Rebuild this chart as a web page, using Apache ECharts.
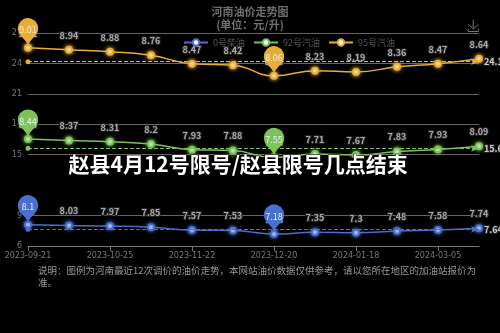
<!DOCTYPE html>
<html>
<head>
<meta charset="utf-8">
<script src="https://cdn.jsdelivr.net/npm/echarts@6/dist/echarts.min.js"></script>
<style>
html,body{margin:0;padding:0;background:#000;}
#c{width:500px;height:333px;}
</style>
</head>
<body>
<div id="c"></div>
<script>
var categories = ['2023-09-21','2023-10-11','2023-10-25','2023-11-08','2023-11-22','2023-12-06','2023-12-20','2024-01-04','2024-01-18','2024-02-01','2024-03-05','2024-03-19'];
var diesel0 = [8.1, 8.03, 7.97, 7.85, 7.57, 7.53, 7.18, 7.35, 7.3, 7.48, 7.58, 7.74];
var gas92 = [8.44, 8.37, 8.31, 8.2, 7.93, 7.88, 7.55, 7.71, 7.67, 7.83, 7.93, 8.09];
var gas95 = [9.01, 8.94, 8.88, 8.76, 8.47, 8.42, 8.06, 8.23, 8.19, 8.36, 8.47, 8.64];
var seriesNames = ['0号柴油', '92号汽油', '95号汽油'];
var yTicks = {min: 6, max: 27, interval: 3};

var colors = ['#4a6fd0', '#7cc35a', '#e8ad35'];
var fontFam = '"Noto Sans CJK SC", "Noto Sans", sans-serif';

function mkSeries(name, data, color) {
  return {
    name: name,
    type: 'line',
    stack: 'total',
    smooth: true,
    data: data,
    symbol: 'circle',
    symbolSize: 6,
    itemStyle: {color: '#fff', borderColor: color, borderWidth: 2, shadowColor: color, shadowBlur: 4},
    lineStyle: {color: color, width: 1.5},
    label: {
      show: true, position: 'top', distance: 6,
      color: '#aaa', fontSize: 9, fontWeight: 'bold', fontFamily: fontFam,
      textBorderColor: '#222', textBorderWidth: 2
    },
    markPoint: {
      symbol: 'pin',
      symbolSize: 34,
      itemStyle: {color: color},
      label: {color: '#eee', fontSize: 9, fontFamily: fontFam},
      data: [{type: 'max', name: '最高'}, {type: 'min', name: '最低'}]
    },
    markLine: {
      symbolSize: [5, 8],
      lineStyle: {color: color, type: 'dashed', width: 1},
      label: {color: '#ccc', fontSize: 9, fontWeight: 'bold', fontFamily: fontFam, textBorderColor: '#222', textBorderWidth: 2},
      data: [{type: 'average', name: '平均值'}]
    }
  };
}

var chart = echarts.init(document.getElementById('c'), null, {renderer: 'canvas'});
chart.setOption({
  backgroundColor: '#000',
  animation: false,
  color: colors,
  title: {
    text: '河南油价走势图',
    subtext: '(单位：元/升)',
    left: 'center',
    top: 1,
    itemGap: 2,
    textStyle: {color: '#6f6f6f', fontSize: 11, fontWeight: 'bold', fontFamily: fontFam},
    subtextStyle: {color: '#6f6f6f', fontSize: 11, fontWeight: 'bold', fontFamily: fontFam}
  },
  toolbox: {
    right: 4, top: 2, itemSize: 12,
    iconStyle: {borderColor: '#777'},
    feature: {saveAsImage: {}}
  },
  legend: {
    data: seriesNames,
    top: 33,
    left: 178,
    itemWidth: 24,
    itemHeight: 8,
    itemGap: 8,
    textStyle: {color: '#555', fontSize: 9, fontFamily: fontFam}
  },
  grid: {left: 28, right: 21, top: 33, bottom: 87, containLabel: false},
  xAxis: {
    type: 'category',
    boundaryGap: false,
    data: categories,
    axisLine: {lineStyle: {color: '#777'}},
    axisTick: {interval: 1, lineStyle: {color: '#777'}},
    axisLabel: {interval: 1, color: '#777', fontSize: 8, fontFamily: 'DejaVu Sans', margin: 6}
  },
  yAxis: {
    type: 'value',
    min: yTicks.min, max: yTicks.max, interval: yTicks.interval,
    axisLine: {show: false},
    axisTick: {show: false},
    axisLabel: {color: '#777', fontSize: 8, fontFamily: 'DejaVu Sans', margin: 6},
    splitLine: {lineStyle: {color: '#666'}}
  },
  graphic: [
    {
      type: 'rect', left: 0, top: 158, z: 99,
      shape: {width: 500, height: 36},
      style: {fill: '#000'}
    },
    {
      type: 'text', left: 68, top: 153, z: 100,
      style: {
        text: '赵县4月12号限号/赵县限号几点结束',
        fill: '#fff', font: 'bold 21px "Noto Sans CJK SC"',
        stroke: '#000', lineWidth: 1
      }
    },
    {
      type: 'text', left: 38, top: 264, z: 100,
      style: {
        text: '说明：图例为河南最近12次调价的油价走势，本网站油价数据仅供参考，请以您所在地区的加油站报价为\n准。',
        fill: '#999', font: '9.5px "Noto Sans CJK SC"', lineHeight: 12
      }
    }
  ],
  series: [
    mkSeries(seriesNames[0], diesel0, colors[0]),
    mkSeries(seriesNames[1], gas92, colors[1]),
    mkSeries(seriesNames[2], gas95, colors[2])
  ]
});
</script>
</body>
</html>
